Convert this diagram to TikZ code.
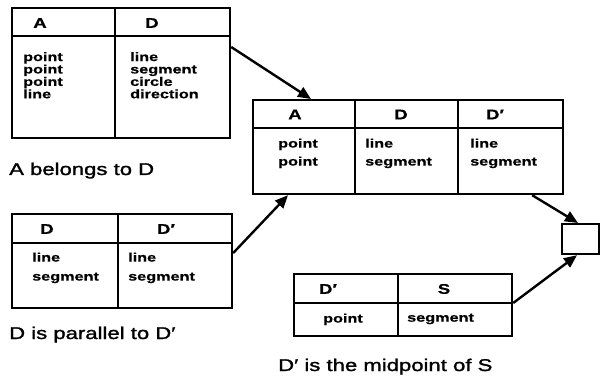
\documentclass[tikz,border=0pt]{standalone}
\usepackage{fontspec}
\usetikzlibrary{arrows.meta}
\newfontfamily\tabfont[FakeStretch=1.33,FakeBold=0.6]{Liberation Sans Bold}
\newfontfamily\capfont[FakeStretch=1.3,FakeBold=1.5]{Liberation Sans}

\tikzset{
  tbl/.style={draw, line width=2.2pt, inner sep=0pt, anchor=north west},
  rule/.style={line width=2pt},
  hdr/.style={font=\tabfont\fontsize{14}{14}\selectfont, inner sep=0pt},
  cell/.style={font=\tabfont\fontsize{12.2}{#1}\selectfont, anchor=north west, align=left, inner sep=0pt},
  cell/.default=12.4,
  caption/.style={font=\capfont\fontsize{17}{20}\selectfont, anchor=base west, inner sep=0pt},
  link/.style={line width=2.4pt, -{Triangle[length=13pt,width=11pt]}}
}

\begin{document}
\begin{tikzpicture}[x=1pt,y=-1pt]
\useasboundingbox (0,0) rectangle (600,377);

% relation "A belongs to D"
\node[tbl, minimum width=218pt, minimum height=130pt] (t1) at (11,7) {};
\draw[rule] (11,36) -- (229,36);
\draw[rule] (115,7) -- (115,137);
\node[hdr] (t1a) at (40,23) {A};
\node[hdr] (t1d) at (152,23) {D};
\node[cell] (t1c1) at (23,52) {point\\point\\point\\line};
\node[cell] (t1c2) at (130,52) {line\\segment\\circle\\direction};
\node[caption] (cap1) at (9,175) {A belongs to D};

% joined relation
\node[tbl, minimum width=310pt, minimum height=94pt] (t2) at (252,99) {};
\draw[rule] (252,128) -- (562,128);
\draw[rule] (355,99) -- (355,193);
\draw[rule] (458,99) -- (458,193);
\node[hdr] (t2a) at (295,114.5) {A};
\node[hdr] (t2d) at (401,114.5) {D};
\node[hdr] (t2dp) at (495,114.5) {D′};
\node[cell=18] (t2c1) at (278,138.5) {point\\point};
\node[cell=18] (t2c2) at (365,138.5) {line\\segment};
\node[cell=18] (t2c3) at (470,138.5) {line\\segment};

% relation "D is parallel to D'"
\node[tbl, minimum width=220pt, minimum height=94pt] (t3) at (11,213) {};
\draw[rule] (11,243) -- (231,243);
\draw[rule] (118,213) -- (118,307);
\node[hdr] (t3d) at (47,229) {D};
\node[hdr] (t3dp) at (166,229) {D′};
\node[cell=19] (t3c1) at (32,252.5) {line\\segment};
\node[cell=19] (t3c2) at (128,252.5) {line\\segment};
\node[caption] (cap3) at (9,339) {D is parallel to D′};

% relation "D' is the midpoint of S"
\node[tbl, minimum width=218pt, minimum height=62pt] (t4) at (293,273) {};
\draw[rule] (293,303) -- (511,303);
\draw[rule] (398,273) -- (398,335);
\node[hdr] (t4dp) at (328,289) {D′};
\node[hdr] (t4s) at (444,289) {S};
\node[cell] (t4c1) at (323,313.5) {point};
\node[cell] (t4c2) at (407,313.5) {segment};
\node[caption] (cap4) at (278,371) {D′ is the midpoint of S};

% result box
\node[tbl, minimum width=37pt, minimum height=30pt] (res) at (561,223) {};

% connectors
\draw[link] ([yshift=-40pt]t1.north east) -- ([xshift=59pt]t2.north west);
\draw[link] ([yshift=-40pt]t3.north east) -- ([xshift=36pt]t2.south west);
\draw[link] ([xshift=-32pt]t2.south east) -- ([xshift=17pt]res.north west);
\draw[link] ([yshift=-30pt]t4.north east) -- ([xshift=16pt]res.south west);
\end{tikzpicture}
\end{document}
